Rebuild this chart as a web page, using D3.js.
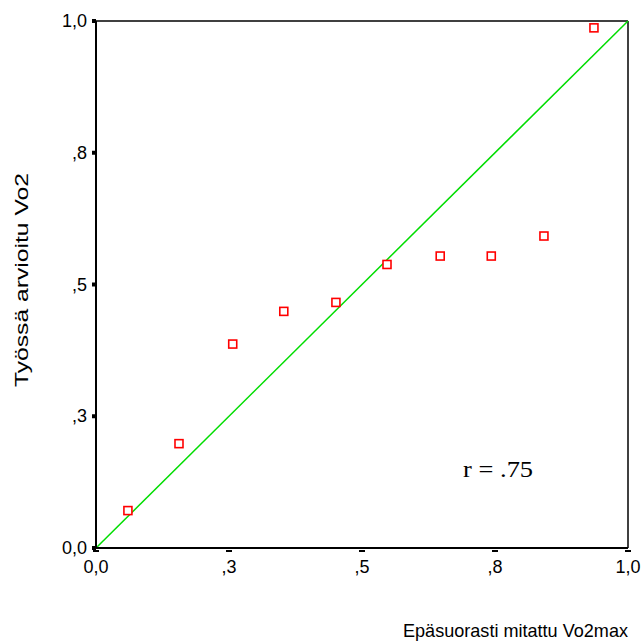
<!DOCTYPE html>
<html>
<head>
<meta charset="utf-8">
<script src="https://cdn.jsdelivr.net/npm/d3@7"></script>
<style>
  body { margin: 0; background: #fff; }
  svg { display: block; }
</style>
</head>
<body>
<svg id="chart" width="643" height="643"></svg>
<script>
// measured / estimated values
const xValues = [0.060, 0.156, 0.257, 0.353, 0.451, 0.547, 0.647, 0.743, 0.842, 0.936];
const yValues = [0.071, 0.198, 0.387, 0.449, 0.466, 0.538, 0.554, 0.554, 0.592, 0.987];
const tickValues = [0, 0.25, 0.5, 0.75, 1];
const tickLabels = ['0,0', ',3', ',5', ',8', '1,0'];
const fitLine = [[0, 0], [1, 1]];
const rLabel = 'r = .75';

const margin = { left: 96, top: 21, right: 15, bottom: 95 };
const width = 643;
const height = 643;

const x = d3.scaleLinear().domain([0, 1]).range([margin.left, width - margin.right]);
const y = d3.scaleLinear().domain([0, 1]).range([height - margin.bottom, margin.top]);

const svg = d3.select('#chart')
  .attr('font-family', 'Liberation Sans, Arial, sans-serif');

// frame top/right
svg.append('line')
  .attr('x1', x(0)).attr('x2', x(1)).attr('y1', y(1)).attr('y2', y(1))
  .attr('stroke', '#000').attr('stroke-width', 1.5);
svg.append('line')
  .attr('x1', x(1)).attr('x2', x(1)).attr('y1', y(0)).attr('y2', y(1))
  .attr('stroke', '#000').attr('stroke-width', 1.5);

// fit line
svg.append('line')
  .attr('x1', x(fitLine[0][0])).attr('y1', y(fitLine[0][1]))
  .attr('x2', x(fitLine[1][0])).attr('y2', y(fitLine[1][1]))
  .attr('stroke', '#00dd00').attr('stroke-width', 1.5);

// left/bottom axes
svg.append('line')
  .attr('x1', x(0)).attr('x2', x(0)).attr('y1', y(0)).attr('y2', y(1))
  .attr('stroke', '#000').attr('stroke-width', 2);
svg.append('line')
  .attr('x1', x(0)).attr('x2', x(1)).attr('y1', y(0)).attr('y2', y(0))
  .attr('stroke', '#000').attr('stroke-width', 2);

// y ticks
svg.append('g').selectAll('rect')
  .data(tickValues)
  .join('rect')
  .attr('x', x(0) - 4).attr('y', d => y(d) - 2)
  .attr('width', 4).attr('height', 4)
  .attr('fill', '#000');
svg.append('g').selectAll('text')
  .data(tickValues)
  .join('text')
  .attr('x', x(0) - 9).attr('y', d => y(d) + 6)
  .attr('text-anchor', 'end')
  .attr('font-size', 18)
  .text((d, i) => tickLabels[i]);

// x ticks
svg.append('g').selectAll('rect')
  .data(tickValues)
  .join('rect')
  .attr('x', d => x(d) - 3).attr('y', y(0) + 2)
  .attr('width', 6).attr('height', 2)
  .attr('fill', '#000');
svg.append('g').selectAll('text')
  .data(tickValues)
  .join('text')
  .attr('x', d => x(d)).attr('y', y(0) + 25)
  .attr('text-anchor', 'middle')
  .attr('font-size', 18)
  .text((d, i) => tickLabels[i]);

// points
svg.append('g').selectAll('rect')
  .data(xValues.map((v, i) => [v, yValues[i]]))
  .join('rect')
  .attr('x', d => x(d[0]) - 4).attr('y', d => y(d[1]) - 4)
  .attr('width', 8).attr('height', 8)
  .attr('fill', '#fff')
  .attr('stroke', '#ff0000').attr('stroke-width', 1.6);

// r label
svg.append('text')
  .attr('x', x(0.69)).attr('y', y(0.135))
  .attr('font-family', 'Liberation Serif, Times New Roman, serif')
  .attr('font-size', 23)
  .attr('textLength', 70)
  .attr('lengthAdjust', 'spacingAndGlyphs')
  .text(rLabel);

// axis titles
svg.append('text')
  .attr('transform', `translate(28, 280) rotate(-90)`)
  .attr('text-anchor', 'middle')
  .attr('font-size', 19)
  .attr('textLength', 214)
  .attr('lengthAdjust', 'spacingAndGlyphs')
  .text('Työssä arvioitu Vo2');
svg.append('text')
  .attr('x', x(1)).attr('y', 637)
  .attr('text-anchor', 'end')
  .attr('font-size', 19)
  .attr('textLength', 225)
  .attr('lengthAdjust', 'spacingAndGlyphs')
  .text('Epäsuorasti mitattu Vo2max');
</script>
</body>
</html>
